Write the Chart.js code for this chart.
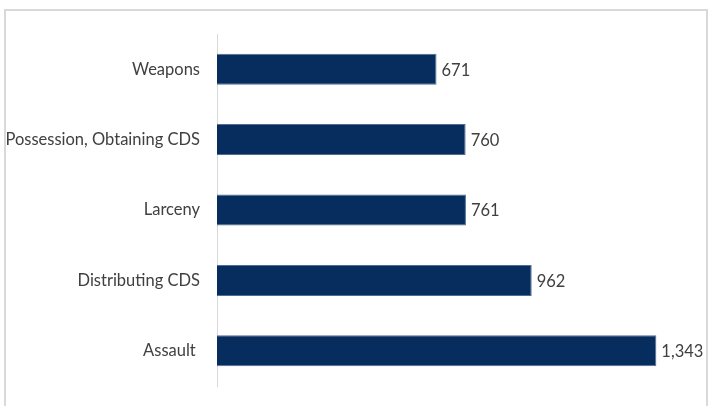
<!DOCTYPE html>
<html>
<head>
<meta charset="utf-8">
<script src="https://cdn.jsdelivr.net/npm/chart.js@4/dist/chart.umd.min.js"></script>
<style>
  html, body { margin: 0; padding: 0; background: #fff; }
  body { width: 712px; height: 406px; overflow: hidden; position: relative; }
  #frame {
    position: absolute;
    left: 4px;
    top: 9px;
    width: 700px;
    height: 400px;
    border: 2px solid #d9d9d9;
    border-bottom: none;
    background: #fff;
  }
  #chartBox { position: relative; width: 700px; height: 395px; }
</style>
</head>
<body>
<div id="frame">
  <div id="chartBox"><canvas id="offenseChart"></canvas></div>
</div>
<script>
const categories = ["Weapons", "Possession, Obtaining CDS", "Larceny", "Distributing CDS", "Assault "];
const counts = [671, 760, 761, 962, 1343];

const fontFamily = "Lato, 'Open Sans', sans-serif";
const textColor = "#404040";

// draws the number just past the end of each bar
const valueLabels = {
  id: "valueLabels",
  afterDatasetsDraw(chart) {
    const ctx = chart.ctx;
    const meta = chart.getDatasetMeta(0);
    ctx.save();
    ctx.font = "16.5px " + fontFamily;
    ctx.fillStyle = textColor;
    ctx.textAlign = "left";
    ctx.textBaseline = "middle";
    meta.data.forEach((bar, i) => {
      const value = chart.data.datasets[0].data[i];
      ctx.fillText(value.toLocaleString("en-US"), bar.x + 5, bar.y + 1);
    });
    ctx.restore();
  },
};

const ctx = document.getElementById("offenseChart").getContext("2d");
new Chart(ctx, {
  type: "bar",
  data: {
    labels: categories,
    datasets: [
      {
        data: counts,
        backgroundColor: "#072d5e",
        borderColor: "#4f6d94",
        borderWidth: 1,
        barPercentage: 0.88,
        categoryPercentage: 0.5,
      },
    ],
  },
  options: {
    indexAxis: "y",
    responsive: true,
    maintainAspectRatio: false,
    animation: false,
    layout: {
      padding: { top: 23, bottom: 20, left: 0, right: 31 },
    },
    scales: {
      x: {
        display: false,
        min: 0,
        max: 1400,
      },
      y: {
        grid: { display: false, drawTicks: false },
        border: { display: true, color: "#d9d9d9", width: 1 },
        ticks: {
          color: textColor,
          padding: 17,
          font: { family: fontFamily, size: 16.5 },
        },
        afterFit(scale) {
          scale.width = 211;
          // labels sit at category centres, no overhang needed
          scale.paddingTop = 0;
          scale.paddingBottom = 0;
        },
      },
    },
    plugins: {
      legend: { display: false },
      tooltip: { enabled: false },
    },
  },
  plugins: [valueLabels],
});
</script>
</body>
</html>
